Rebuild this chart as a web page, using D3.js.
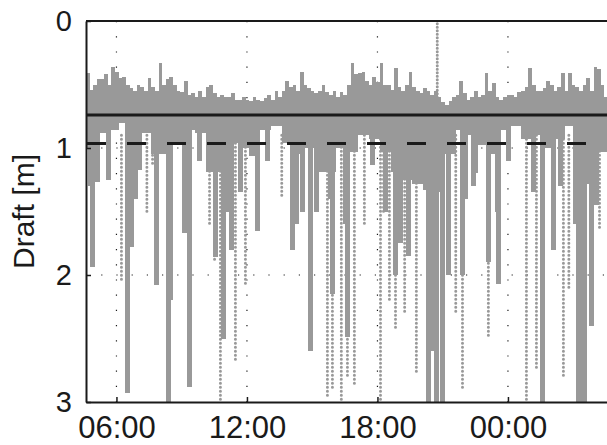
<!DOCTYPE html>
<html>
<head>
    <meta charset="utf-8">
    <script src="https://d3js.org/d3.v7.min.js"></script>
    <style>
        body, html { margin: 0; background: #fff; }
        text { font-family: Arial, "Liberation Sans", sans-serif; fill: #1a1a1a; }
    </style>
</head>
<body>
<div id="chart"></div>
<script>
    // time axis in hours since midnight of day 1 (24 = 00:00 next day)
    const tStart = 4.6, tEnd = 28.6;
    const tickHours = [6, 12, 18, 24];
    const tickLabels = ["06:00", "12:00", "18:00", "00:00"];
    const draftTicks = [0, 1, 2, 3];

    const meanDraft = 0.74;   // solid line
    const limitDraft = 0.965; // dashed line

    // upper edge of the dense band, one value per 10 minutes from tStart
    const bandTop = [
        0.41, 0.54, 0.5, 0.46, 0.46, 0.42, 0.5, 0.36, 0.4, 0.45, 0.44, 0.5,
        0.53, 0.55, 0.5, 0.52, 0.55, 0.45, 0.52, 0.55, 0.33, 0.5, 0.46, 0.44,
        0.5, 0.55, 0.56, 0.47, 0.58, 0.57, 0.6, 0.55, 0.6, 0.52, 0.5, 0.57,
        0.6, 0.58, 0.6, 0.6, 0.57, 0.62, 0.62, 0.6, 0.62, 0.63, 0.6, 0.62,
        0.63, 0.61, 0.58, 0.62, 0.55, 0.6, 0.55, 0.47, 0.52, 0.5, 0.55, 0.4,
        0.5, 0.53, 0.55, 0.57, 0.55, 0.5, 0.56, 0.58, 0.55, 0.6, 0.56, 0.58,
        0.5, 0.33, 0.42, 0.41, 0.4, 0.47, 0.5, 0.44, 0.48, 0.33, 0.5, 0.5,
        0.54, 0.37, 0.52, 0.55, 0.5, 0.4, 0.52, 0.55, 0.57, 0.53, 0.55, 0.58,
        0.55, 0.6, 0.64, 0.66, 0.63, 0.6, 0.58, 0.47, 0.57, 0.62, 0.6, 0.55,
        0.6, 0.58, 0.41, 0.55, 0.49, 0.6, 0.62, 0.6, 0.58, 0.58, 0.6, 0.56,
        0.55, 0.52, 0.37, 0.5, 0.55, 0.55, 0.53, 0.47, 0.5, 0.55, 0.52, 0.41,
        0.55, 0.41, 0.5, 0.52, 0.55, 0.5, 0.45, 0.55, 0.36, 0.38, 0.5, 0.6
    ];
    // lower edge of the dense band, one value per 30 minutes from tStart
    const bandBase = [
        1.0, 0.88, 0.86, 0.8, 1.0, 0.88, 1.05, 1.05, 0.96, 0.86, 0.88, 1.19,
        1.19, 0.96, 1.0, 1.06, 0.86, 0.83, 0.96, 1.05, 1.0, 1.19, 1.19, 1.0,
        1.03, 0.9, 0.93, 1.03, 1.19, 1.25, 1.28, 1.33, 1.35, 1.05, 0.86, 0.9,
        0.98, 1.05, 0.86, 0.83, 0.93, 0.9, 1.0, 0.93, 0.83, 1.19, 1.28, 1.03
    ];

    // deep keels: densely sampled streaks
    const denseTime = [
        4.80, 4.90, 5.13, 5.63, 6.51, 6.69, 6.87, 7.06, 7.84, 8.39, 8.48, 9.13,
        9.22, 9.36, 9.82, 10.55, 10.92, 11.06, 11.29, 11.70, 12.48, 12.94,
        14.09, 14.28, 14.55, 14.92, 15.20, 15.84, 15.93, 16.53, 16.62, 17.77,
        18.37, 18.83, 19.06, 19.43, 20.34, 20.50, 20.71, 20.99, 21.26, 21.91,
        22.05, 22.41, 22.51, 23.10, 23.52, 23.56, 24.02, 25.17, 25.59, 26.09,
        26.41, 27.10, 27.24, 27.35, 27.52, 27.84, 28.07
    ];
    const denseDepth = [
        1.3, 1.94, 1.27, 1.25, 2.93, 1.78, 1.4, 1.17, 2.08, 3.0, 2.2, 1.67,
        1.45, 2.88, 1.1, 1.86, 2.5, 1.5, 1.8, 1.35, 1.65, 1.1,
        1.8, 1.6, 1.5, 2.6, 1.5, 1.4, 2.15, 1.6, 2.49, 1.13,
        1.5, 2.0, 1.75, 1.85, 3.0, 2.6, 3.0, 3.0, 2.0, 2.0,
        1.4, 1.3, 1.2, 1.9, 1.5, 2.07, 1.1, 1.35, 3.0, 1.8,
        1.3, 1.6, 3.0, 3.0, 3.0, 2.4, 1.45
    ];
    // sparse single-ping columns
    const sparseTime = [
        6.23, 7.40, 7.66, 10.28, 10.51, 10.78, 11.47, 11.93, 13.60, 15.70,
        15.93, 16.34, 16.62, 16.94, 17.40, 18.14, 18.28, 18.55, 18.83, 19.25,
        19.79, 21.60, 21.91, 23.10, 24.85, 25.31, 26.55, 26.80, 28.21
    ];
    const sparseDepth = [
        2.06, 1.5, 1.14, 1.6, 1.9, 2.98, 2.67, 2.07, 1.4, 2.96,
        2.9, 2.98, 2.8, 2.88, 1.6, 3.0, 1.5, 2.2, 2.43, 2.3,
        2.77, 2.3, 2.9, 2.49, 3.0, 2.75, 2.8, 2.1, 1.65
    ];
    // rises above the band
    const riseTime = [20.75];
    const riseTop = [0.0];

    const width = 607, height = 445;
    const plotLeft = 86, plotTop = 21, plotRight = 608, plotBottom = 402;
    const gray = "#999999", ink = "#1a1a1a";

    const svg = d3.select("#chart").append("svg")
        .attr("width", width)
        .attr("height", height);

    const x = d3.scaleLinear().domain([tStart, tEnd]).range([plotLeft, plotRight]);
    const y = d3.scaleLinear().domain([0, 3]).range([plotTop, plotBottom]);

    svg.append("clipPath").attr("id", "plot")
        .append("rect").attr("x", plotLeft).attr("y", plotTop)
        .attr("width", plotRight - plotLeft).attr("height", plotBottom - plotTop);

    // dotted grid
    const grid = svg.append("g").attr("stroke", ink).attr("stroke-width", 1.2)
        .attr("stroke-dasharray", "1.2 14");
    grid.selectAll(".vg").data(tickHours).join("line")
        .attr("x1", d => x(d)).attr("x2", d => x(d))
        .attr("y1", plotTop).attr("y2", plotBottom);
    grid.selectAll(".hg").data([1, 2]).join("line")
        .attr("x1", plotLeft).attr("x2", plotRight)
        .attr("y1", d => y(d)).attr("y2", d => y(d));

    const plot = svg.append("g").attr("clip-path", "url(#plot)");

    // sparse columns as dotted strokes
    plot.append("g").selectAll("line")
        .data(d3.zip(sparseTime, sparseDepth)).join("line")
        .attr("x1", d => x(d[0])).attr("x2", d => x(d[0]))
        .attr("y1", y(0.9)).attr("y2", d => y(d[1]))
        .attr("stroke", gray).attr("stroke-width", 3)
        .attr("stroke-linecap", "round").attr("stroke-dasharray", "0 4");

    plot.append("g").selectAll("line")
        .data(d3.zip(riseTime, riseTop)).join("line")
        .attr("x1", d => x(d[0])).attr("x2", d => x(d[0]))
        .attr("y1", y(0.6)).attr("y2", d => y(d[1]))
        .attr("stroke", gray).attr("stroke-width", 3)
        .attr("stroke-linecap", "round").attr("stroke-dasharray", "0 3.5");

    // dense streaks
    plot.append("g").attr("shape-rendering", "crispEdges").selectAll("rect")
        .data(d3.zip(denseTime, denseDepth)).join("rect")
        .attr("x", d => x(d[0]) - 2.5).attr("width", 5)
        .attr("y", y(0.8)).attr("height", d => y(d[1]) - y(0.8))
        .attr("fill", gray);

    // dense band as a stepped area
    const step = (tEnd - tStart) / bandTop.length;
    const bandRows = bandTop.map((d, i) => ({
        t: tStart + i * step, top: d, base: bandBase[Math.floor(i / 3)]
    }));
    bandRows.push({ ...bandRows[bandRows.length - 1], t: tEnd });
    const band = d3.area()
        .curve(d3.curveStepAfter)
        .x(d => x(d.t))
        .y0(d => y(d.base))
        .y1(d => y(d.top));
    plot.append("path").datum(bandRows)
        .attr("d", band)
        .attr("fill", gray)
        .attr("shape-rendering", "crispEdges");

    // reference levels
    plot.append("line")
        .attr("x1", plotLeft).attr("x2", plotRight)
        .attr("y1", y(meanDraft)).attr("y2", y(meanDraft))
        .attr("stroke", ink).attr("stroke-width", 3);
    plot.append("line")
        .attr("x1", plotLeft + 1).attr("x2", plotRight)
        .attr("y1", y(limitDraft)).attr("y2", y(limitDraft))
        .attr("stroke", ink).attr("stroke-width", 3)
        .attr("stroke-dasharray", "19 21");

    // axes
    const xAxis = d3.axisBottom(x).tickValues(tickHours)
        .tickFormat((d, i) => tickLabels[i]).tickSizeInner(-5).tickSizeOuter(0).tickPadding(14);
    const gx = svg.append("g").attr("transform", `translate(0,${plotBottom})`).call(xAxis);
    gx.select(".domain").attr("stroke", ink).attr("stroke-width", 2);
    gx.selectAll(".tick line").attr("stroke", ink).attr("stroke-width", 1.5);
    gx.selectAll("text").attr("font-size", 31).attr("fill", ink);

    const yAxis = d3.axisLeft(y).tickValues(draftTicks).tickFormat(d3.format("d"))
        .tickSizeInner(-5).tickSizeOuter(0).tickPadding(14);
    const gy = svg.append("g").attr("transform", `translate(${plotLeft},0)`).call(yAxis);
    gy.select(".domain").attr("stroke", ink).attr("stroke-width", 2);
    gy.selectAll(".tick line").attr("stroke", ink).attr("stroke-width", 1.5);
    gy.selectAll("text").attr("font-size", 29).attr("fill", ink);

    // top frame
    svg.append("line").attr("x1", plotLeft).attr("x2", plotRight)
        .attr("y1", plotTop).attr("y2", plotTop)
        .attr("stroke", ink).attr("stroke-width", 2);

    svg.append("text")
        .attr("transform", `translate(34,${(plotTop + plotBottom) / 2}) rotate(-90)`)
        .attr("text-anchor", "middle")
        .attr("font-size", 30)
        .text("Draft [m]");
</script>
</body>
</html>
